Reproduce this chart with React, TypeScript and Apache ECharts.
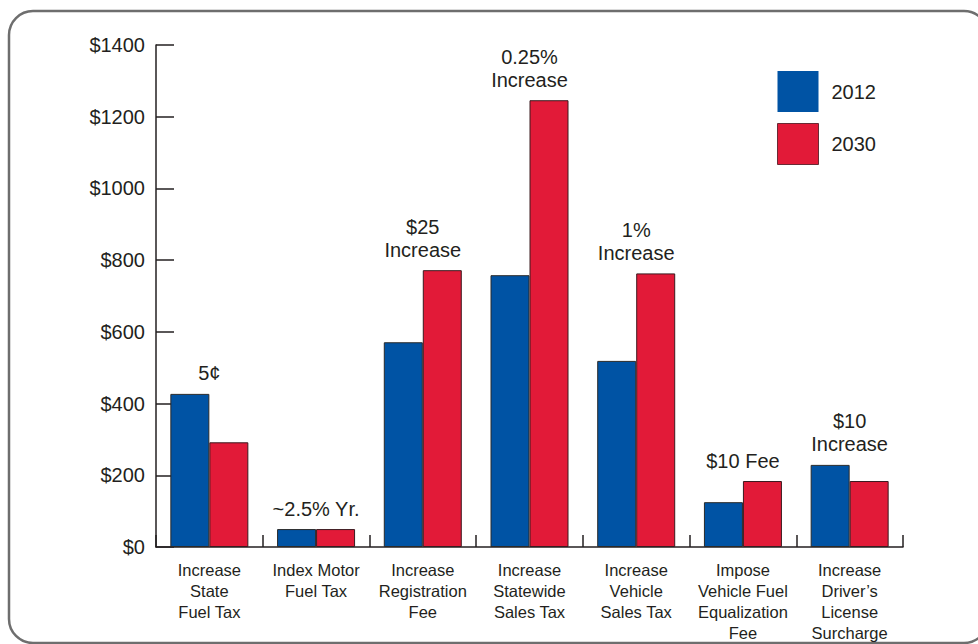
import React, { useEffect, useRef } from "react";
import * as echarts from "echarts";

// Revenue per option, in dollars
const categories = [
  "Increase\nState\nFuel Tax",
  "Index Motor\nFuel Tax",
  "Increase\nRegistration\nFee",
  "Increase\nStatewide\nSales Tax",
  "Increase\nVehicle\nSales Tax",
  "Impose\nVehicle Fuel\nEqualization\nFee",
  "Increase\nDriver’s\nLicense\nSurcharge",
];
const seriesNames = ["2012", "2030"];
const values2012 = [427, 50, 571, 758, 519, 125, 229];
const values2030 = [292, 50, 772, 1246, 763, 184, 184];
const optionNotes = [
  "5¢",
  "~2.5% Yr.",
  "$25\nIncrease",
  "0.25%\nIncrease",
  "1%\nIncrease",
  "$10 Fee",
  "$10\nIncrease",
];
const yTicks = [0, 200, 400, 600, 800, 1000, 1200, 1400];

const FONT = "'Liberation Sans', Arial, Helvetica, sans-serif";
const INK = "#231f20";
const BLUE = "#0053a4";
const RED = "#e21a38";

export default function App() {
  const ref = useRef<HTMLDivElement>(null);

  useEffect(() => {
    if (!ref.current) return;
    const chart = echarts.init(ref.current, null, { renderer: "svg" });

    const noteData = categories.map((_, i) => [
      i,
      Math.max(values2012[i], values2030[i]),
      optionNotes[i],
    ]);

    chart.setOption({
      animation: false,
      backgroundColor: "#ffffff",
      textStyle: { fontFamily: FONT },
      graphic: [
        {
          type: "rect",
          shape: { x: 9, y: 11, width: 979, height: 632, r: 24 },
          style: { fill: "none", stroke: "#6e6e6e", lineWidth: 2.5 },
          silent: true,
          z: -1,
        },
      ],
      legend: {
        data: [
          { name: seriesNames[0], itemStyle: { borderWidth: 0 } },
          {
            name: seriesNames[1],
            itemStyle: { borderWidth: 1, borderColor: "#6a2a34" },
          },
        ],
        orient: "vertical",
        left: 777,
        top: 71,
        padding: 0,
        itemWidth: 41,
        itemHeight: 41,
        itemGap: 11,
        icon: "rect",
        selectedMode: false,
        textStyle: {
          fontFamily: FONT,
          fontSize: 20,
          color: INK,
          padding: [0, 0, 0, 8],
        },
      },
      grid: { left: 156, top: 45, width: 747, height: 502 },
      xAxis: {
        type: "category",
        data: categories,
        axisLine: { show: true, lineStyle: { color: INK, width: 1.5 } },
        axisTick: {
          show: true,
          inside: true,
          length: 12,
          alignWithLabel: false,
          lineStyle: { color: INK, width: 1.5 },
        },
        axisLabel: {
          interval: 0,
          fontFamily: FONT,
          fontSize: 16.5,
          lineHeight: 21,
          color: INK,
          margin: 12,
          align: "center",
        },
      },
      yAxis: {
        type: "value",
        min: yTicks[0],
        max: yTicks[yTicks.length - 1],
        interval: 200,
        axisLine: { show: true, lineStyle: { color: INK, width: 1.5 } },
        axisTick: {
          show: true,
          inside: true,
          length: 18,
          lineStyle: { color: INK, width: 1.5 },
        },
        splitLine: { show: false },
        axisLabel: {
          fontFamily: FONT,
          fontSize: 20,
          color: INK,
          margin: 11,
          formatter: (v: number) => "$" + v,
        },
      },
      series: [
        {
          name: seriesNames[0],
          type: "bar",
          data: values2012,
          barWidth: 39,
          barGap: "0%",
          itemStyle: { color: BLUE, borderColor: "#2a2a2a", borderWidth: 1 },
        },
        {
          name: seriesNames[1],
          type: "bar",
          data: values2030,
          barWidth: 39,
          barGap: "0%",
          itemStyle: { color: RED, borderColor: "#3a1a1f", borderWidth: 1 },
        },
        {
          name: "notes",
          type: "custom",
          data: noteData,
          silent: true,
          z: 5,
          renderItem: (params: any, api: any) => {
            const idx = params.dataIndex;
            const p = api.coord([api.value(0), api.value(1)]);
            return {
              type: "text",
              x: p[0],
              y: p[1] - 9,
              style: {
                text: optionNotes[idx],
                align: "center",
                verticalAlign: "bottom",
                fontFamily: FONT,
                fontSize: 20,
                lineHeight: 23,
                fill: INK,
              },
            };
          },
        },
      ],
    });

    return () => chart.dispose();
  }, []);

  return (
    <div
      ref={ref}
      style={{ position: "absolute", left: 0, top: 0, width: 978, height: 644 }}
    />
  );
}
